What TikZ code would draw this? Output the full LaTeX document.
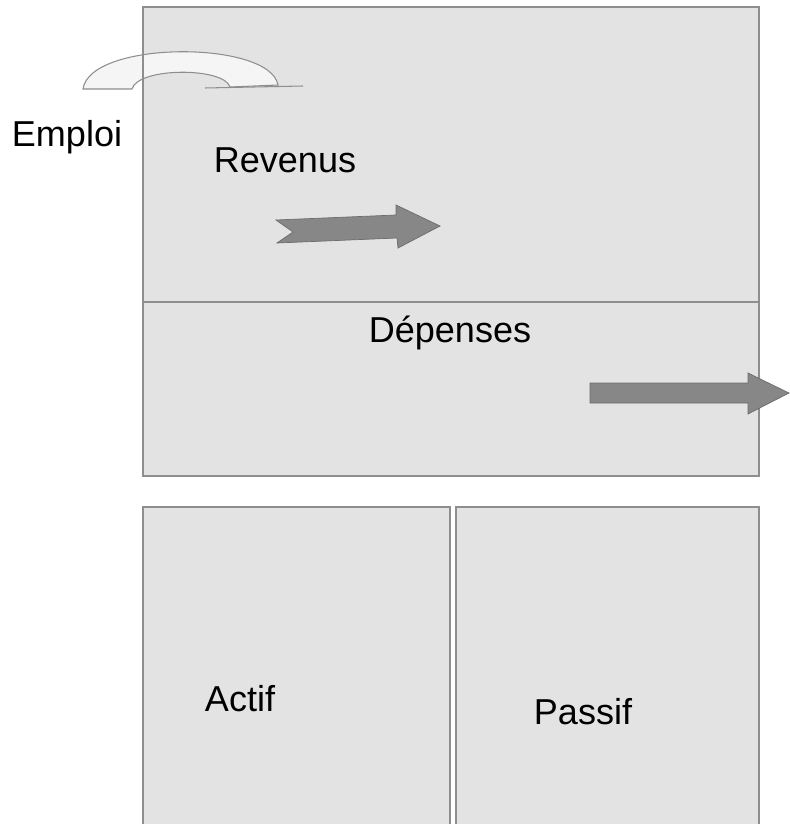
\documentclass[tikz,border=0pt]{standalone}
\usepackage{fontspec}
\setmainfont{Liberation Sans}
\definecolor{boxfill}{HTML}{E3E3E3}
\definecolor{boxline}{HTML}{8E8E8E}
\definecolor{arrowfill}{HTML}{878787}
\definecolor{archfill}{HTML}{F5F5F5}
\begin{document}
\begin{tikzpicture}[x=0.02cm,y=-0.02cm,
		label text/.style={font=\fontsize{20.5}{24}\selectfont, inner sep=0pt},
		panel/.style={fill=boxfill},
		panel border/.style={draw=boxline, line width=0.9pt},
		flow arrow/.style={fill=arrowfill, draw=arrowfill!80!black, line width=0.4pt}]
		\useasboundingbox (0,0) rectangle (789,824);

		% fonds des cases
		\fill[panel] (143,7) rectangle (759,476);
		\fill[panel] (143,507) rectangle (450,830);
		\fill[panel] (456,507) rectangle (759,830);

		% arc (emploi)
		\draw[fill=archfill, draw=boxline, line width=0.6pt] (83,89) .. controls (90,40) and (270,40) .. (278,85)
			-- (230,87) .. controls (224,67) and (138,67) .. (132,89) -- cycle;
		\draw[boxline, line width=0.6pt] (205,88) -- (303,86);

		% bordures
		\draw[panel border] (143,7) rectangle (759,302);
		\draw[panel border] (143,302) rectangle (759,476);
		\draw[panel border] (143,830) -- (143,507) -- (450,507) -- (450,830);
		\draw[panel border] (456,830) -- (456,507) -- (759,507) -- (759,830);

		% fleches
		\draw[flow arrow] (276,220) -- (293,232) -- (277,243) -- (397,238) -- (398,248)
			-- (440,226) -- (396,205) -- (396,215) -- cycle;
		\draw[flow arrow] (590,383) -- (748,383) -- (748,373) -- (789,393)
			-- (748,414) -- (748,403) -- (590,403) -- cycle;

		% textes
		\node[label text] (emploi) at (67,137) {Emploi};
		\node[label text] (revenus) at (285,160) {Revenus};
		\node[label text] (depenses) at (450,333) {Dépenses};
		\node[label text] (actif) at (240,699) {Actif};
		\node[label text] (passif) at (583,712) {Passif};
	\end{tikzpicture}
\end{document}
